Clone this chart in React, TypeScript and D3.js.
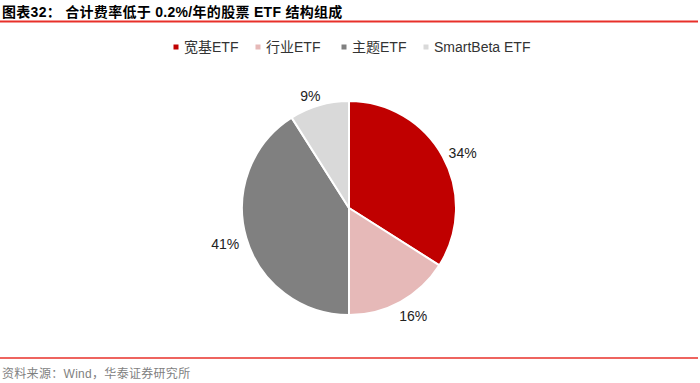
import React from "react";
import * as d3 from "d3";

const categories = ["宽基ETF", "行业ETF", "主题ETF", "SmartBeta ETF"];
const values = [34, 16, 41, 9];
const colors = ["#C00000", "#E6B9B8", "#808080", "#D9D9D9"];

const W = 700, H = 383;
const cx = 349, cy = 208, R = 107;
const FONT = '"Liberation Sans", Arial, "Noto Sans CJK SC", sans-serif';

export default function App() {
  const pie = d3.pie<number>().sort(null).value((d) => d)(values);
  const arc = d3.arc<d3.PieArcDatum<number>>().innerRadius(0).outerRadius(R);
  const total = d3.sum(values);
  const legendX = [176, 258, 344, 426];

  return (
    <svg width={W} height={H} style={{ position: "absolute", left: 0, top: 0, background: "#fff" }} fontFamily={FONT}>
      <text x={2} y={17} fontSize={14} fontWeight="bold" fill="#000" letterSpacing={0.3}>
        图表32：  合计费率低于 0.2%/年的股票 ETF 结构组成
      </text>
      <line x1={0} x2={698} y1={21.5} y2={21.5} stroke="#E8302A" strokeWidth={2} />

      <g>
        {categories.map((c, i) => (
          <g key={c}>
            <rect x={legendX[i] - 2.5} y={44.5} width={5} height={5} fill={colors[i]} />
            <text x={legendX[i] + 8} y={52} fontSize={14} fill="#333">{c}</text>
          </g>
        ))}
      </g>

      <g transform={`translate(${cx},${cy})`}>
        {pie.map((p, i) => (
          <path key={i} d={arc(p) || ""} fill={colors[i]} stroke="#fff" strokeWidth={2} strokeLinejoin="round" />
        ))}
        {pie.map((p, i) => {
          const a = (p.startAngle + p.endAngle) / 2;
          const s = Math.sin(a), c = Math.cos(a);
          const lr = R + 6;
          const hw = 15, hh = 7;
          const x = lr * s + hw * s + 3 * Math.abs(c) * Math.sign(s);
          const y = -lr * c - hh * c + 3;
          return (
            <text key={"l" + i} x={x} y={y} dy="0.35em" textAnchor="middle" fontSize={14} fill="#222">
              {Math.round((values[i] / total) * 100)}%
            </text>
          );
        })}
      </g>

      <line x1={0} x2={698} y1={358} y2={358} stroke="#E8302A" strokeWidth={1.5} />
      <text x={2} y={378} fontSize={12} fill="#7f7f7f" letterSpacing={0.3}>资料来源：Wind，华泰证券研究所</text>
    </svg>
  );
}
